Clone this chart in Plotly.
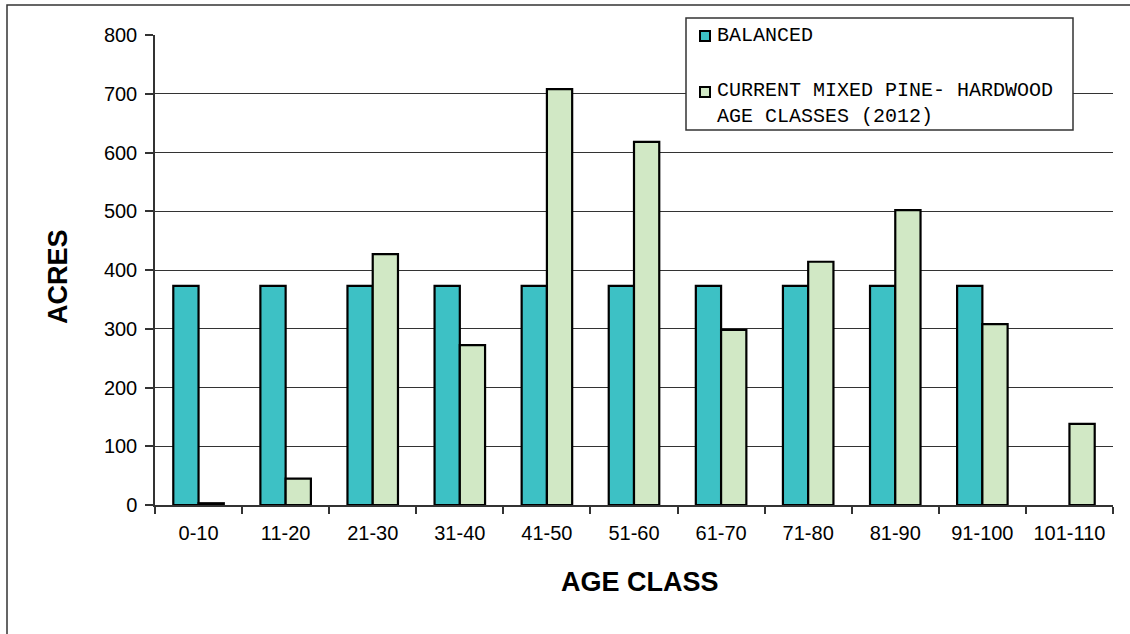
import plotly.graph_objects as go

# Age classes and acreage per class
age_classes = ["0-10", "11-20", "21-30", "31-40", "41-50", "51-60",
               "61-70", "71-80", "81-90", "91-100", "101-110"]
balanced = [373, 373, 373, 373, 373, 373, 373, 373, 373, 373, None]
current_2012 = [3, 45, 427, 272, 708, 618, 298, 414, 502, 308, 138]

y_ticks = [0, 100, 200, 300, 400, 500, 600, 700, 800]

BAL_COLOR = "#3DC1C5"
CUR_COLOR = "#D1E8C5"
LINE_COLOR = "#333333"

W, H = 1130, 634
PL, PR, PT, PB = 155, 1113, 35, 505  # plot area in pixels


def px_x(x):
    return (x - PL) / (PR - PL)


def px_y(y):
    return (PB - y) / (PB - PT)


fig = go.Figure()
fig.add_trace(go.Bar(
    x=age_classes, y=balanced, name="BALANCED",
    marker=dict(color=BAL_COLOR, line=dict(color="black", width=2.2)),
    showlegend=False,
))
fig.add_trace(go.Bar(
    x=age_classes, y=current_2012,
    name="CURRENT MIXED PINE- HARDWOOD AGE CLASSES (2012)",
    marker=dict(color=CUR_COLOR, line=dict(color="black", width=2.2)),
    showlegend=False,
))

shapes = [
    # outer chart frame
    dict(type="rect", xref="paper", yref="paper",
         x0=px_x(7), x1=px_x(1200), y0=px_y(700), y1=px_y(5),
         line=dict(color=LINE_COLOR, width=1.5), fillcolor="rgba(0,0,0,0)",
         layer="below"),
    # legend box
    dict(type="rect", xref="paper", yref="paper",
         x0=px_x(686), x1=px_x(1073), y0=px_y(130), y1=px_y(18),
         line=dict(color=LINE_COLOR, width=1.5), fillcolor="white",
         layer="above"),
    # legend swatches
    dict(type="rect", xref="paper", yref="paper",
         x0=px_x(700), x1=px_x(710), y0=px_y(41), y1=px_y(31),
         line=dict(color="black", width=2), fillcolor=BAL_COLOR, layer="above"),
    dict(type="rect", xref="paper", yref="paper",
         x0=px_x(700), x1=px_x(710), y0=px_y(97), y1=px_y(87),
         line=dict(color="black", width=2), fillcolor=CUR_COLOR, layer="above"),
]

legend_font = dict(family="Liberation Mono, Courier New, monospace",
                   size=20, color="black")
title_font = dict(family="Liberation Sans, Arial, sans-serif",
                  size=27, color="black")

annotations = [
    dict(text="BALANCED", xref="paper", yref="paper",
         x=px_x(715), y=px_y(36), xanchor="left", yanchor="middle",
         showarrow=False, font=legend_font),
    dict(text="CURRENT MIXED PINE- HARDWOOD<br>AGE CLASSES (2012)",
         xref="paper", yref="paper", align="left",
         x=px_x(715), y=px_y(103), xanchor="left", yanchor="middle",
         showarrow=False, font=legend_font),
    dict(text="<b>ACRES</b>", xref="paper", yref="paper",
         x=px_x(58), y=px_y(277), xanchor="center", yanchor="middle",
         textangle=-90, showarrow=False, font=title_font),
    dict(text="<b>AGE CLASS</b>", xref="paper", yref="paper",
         x=px_x(640), y=px_y(582), xanchor="center", yanchor="middle",
         showarrow=False, font=title_font),
]

fig.update_layout(
    width=W, height=H,
    margin=dict(l=PL, r=W - PR, t=PT, b=H - PB, pad=0),
    paper_bgcolor="white", plot_bgcolor="white",
    barmode="group", bargap=0.42, bargroupgap=0,
    font=dict(family="Liberation Sans, Arial, sans-serif", size=20,
              color="black"),
    shapes=shapes, annotations=annotations,
    xaxis=dict(
        type="category", showline=True, linecolor=LINE_COLOR, linewidth=1.5,
        ticks="outside", tickson="boundaries", ticklen=7,
        tickcolor=LINE_COLOR, tickwidth=1.5, showgrid=False,
        tickfont=dict(size=20), ticklabelstandoff=9,
    ),
    yaxis=dict(
        range=[0, 800], tickvals=y_ticks, showline=True,
        linecolor=LINE_COLOR, linewidth=1.5,
        ticks="outside", ticklen=8, tickcolor=LINE_COLOR, tickwidth=1.5,
        showgrid=True, gridcolor=LINE_COLOR, gridwidth=1,
        zeroline=False, tickfont=dict(size=20), ticklabelstandoff=4,
    ),
)

fig.write_html("out.html")
